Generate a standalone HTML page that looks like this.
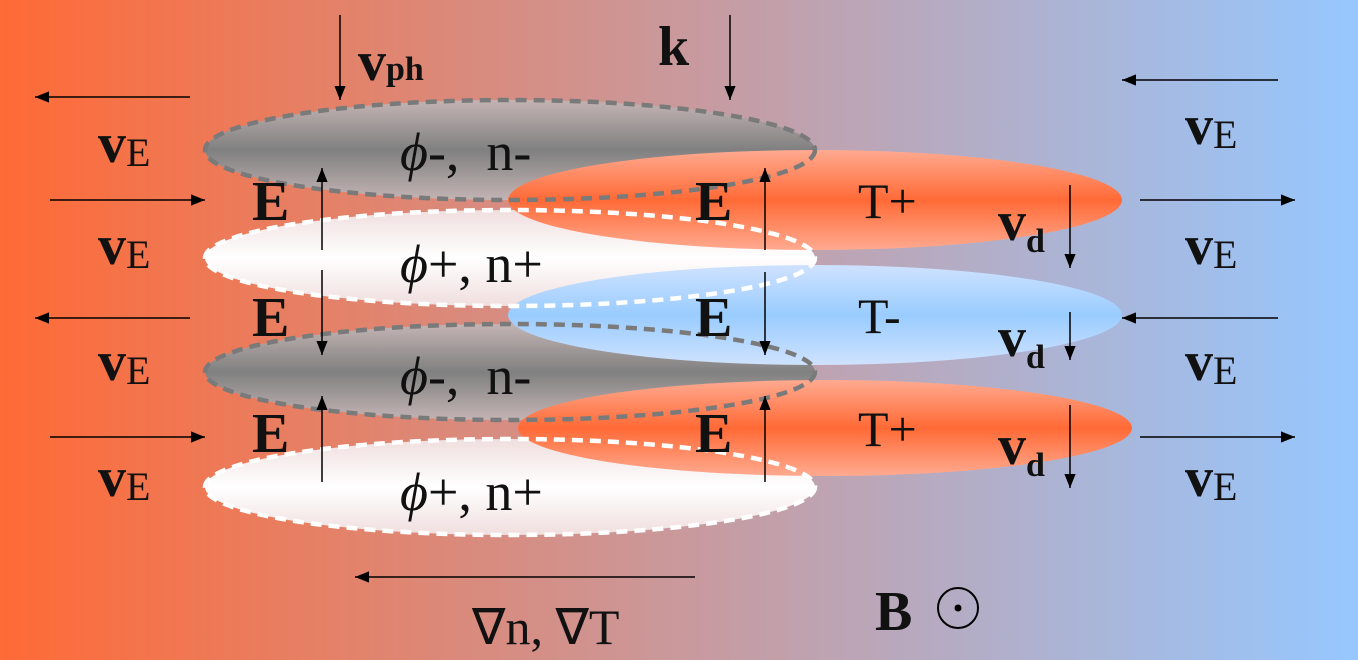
<!DOCTYPE html>
<html><head><meta charset="utf-8"><style>
html,body{margin:0;padding:0;width:1358px;height:660px;overflow:hidden}
svg{display:block}
text{font-family:"Liberation Serif",serif;fill:#111}
.b{font-weight:bold}
</style></head><body>
<svg width="1358" height="660" viewBox="0 0 1358 660" xmlns="http://www.w3.org/2000/svg">
<defs>
<linearGradient id="bg" x1="0" x2="1" y1="0" y2="0">
<stop offset="0" stop-color="#ff6a36"/><stop offset="0.5" stop-color="#c9999c"/><stop offset="1" stop-color="#96c8ff"/>
</linearGradient>
<linearGradient id="grey" x1="0" x2="0" y1="0" y2="1">
<stop offset="0" stop-color="#c4b4b4"/><stop offset="0.5" stop-color="#808080"/><stop offset="1" stop-color="#c4b4b4"/>
</linearGradient>
<linearGradient id="white" x1="0" x2="0" y1="0" y2="1">
<stop offset="0" stop-color="#f0dede"/><stop offset="0.5" stop-color="#ffffff"/><stop offset="1" stop-color="#f0dede"/>
</linearGradient>
<linearGradient id="orange" x1="0" x2="0" y1="0" y2="1">
<stop offset="0" stop-color="#ffaa90"/><stop offset="0.5" stop-color="#ff6a36"/><stop offset="1" stop-color="#ffaa90"/>
</linearGradient>
<linearGradient id="blue" x1="0" x2="0" y1="0" y2="1">
<stop offset="0" stop-color="#cfe2ff"/><stop offset="0.5" stop-color="#99ccff"/><stop offset="1" stop-color="#cfe2ff"/>
</linearGradient>
<marker id="ah" viewBox="0 0 10 10" refX="10" refY="5" markerWidth="14" markerHeight="14" markerUnits="userSpaceOnUse" orient="auto"><path d="M0,1 L10,5 L0,9 z" fill="#000"/></marker>
</defs>
<rect width="1358" height="660" fill="url(#bg)"/>

<g>
<ellipse cx="510" cy="150" rx="305" ry="50" fill="url(#grey)"/>
<ellipse cx="510" cy="258" rx="305" ry="48" fill="url(#white)"/>
<ellipse cx="510" cy="372" rx="305" ry="48" fill="url(#grey)"/>
<ellipse cx="510" cy="487" rx="305" ry="48" fill="url(#white)"/>
</g>
<g>
<ellipse cx="815" cy="200" rx="307" ry="50" fill="url(#orange)"/>
<ellipse cx="815" cy="315" rx="307" ry="50" fill="url(#blue)"/>
<ellipse cx="825" cy="428" rx="307" ry="48" fill="url(#orange)"/>
</g>
<g fill="none" stroke-width="4.5" stroke-dasharray="11,7">
<ellipse cx="510" cy="150" rx="305" ry="50" stroke="#7a7a7a"/>
<ellipse cx="510" cy="258" rx="305" ry="48" stroke="#fff"/>
<ellipse cx="510" cy="372" rx="305" ry="48" stroke="#7a7a7a"/>
<ellipse cx="510" cy="487" rx="305" ry="48" stroke="#fff"/>
</g>

<g stroke="#000" stroke-width="1.5" marker-end="url(#ah)">
<line x1="340" y1="15" x2="340" y2="100"/>
<line x1="730" y1="15" x2="730" y2="100"/>
<line x1="190" y1="97" x2="35" y2="97"/>
<line x1="50" y1="200" x2="205" y2="200"/>
<line x1="190" y1="318" x2="35" y2="318"/>
<line x1="50" y1="437" x2="205" y2="437"/>
<line x1="1278" y1="80" x2="1122" y2="80"/>
<line x1="1140" y1="200" x2="1295" y2="200"/>
<line x1="1278" y1="318" x2="1122" y2="318"/>
<line x1="1140" y1="437" x2="1295" y2="437"/>
<line x1="322" y1="250" x2="322" y2="168"/>
<line x1="322" y1="270" x2="322" y2="355"/>
<line x1="322" y1="482" x2="322" y2="396"/>
<line x1="765" y1="250" x2="765" y2="168"/>
<line x1="765" y1="272" x2="765" y2="355"/>
<line x1="765" y1="482" x2="765" y2="396"/>
<line x1="1070" y1="185" x2="1070" y2="268"/>
<line x1="1070" y1="312" x2="1070" y2="360"/>
<line x1="1070" y1="405" x2="1070" y2="488"/>
<line x1="695" y1="577" x2="355" y2="577"/>
</g>

<g font-size="56">
<text x="358" y="80" class="b">v<tspan font-size="34">ph</tspan></text>
<text x="658" y="65" class="b">k</text>
<text x="400" y="170" font-size="54"><tspan font-style="italic">ϕ</tspan>-,&#160; n-</text>
<text x="400" y="282" font-size="54"><tspan font-style="italic">ϕ</tspan>+, n+</text>
<text x="400" y="394" font-size="54"><tspan font-style="italic">ϕ</tspan>-,&#160; n-</text>
<text x="400" y="510" font-size="54"><tspan font-style="italic">ϕ</tspan>+, n+</text>
<text x="252" y="220" class="b">E</text>
<text x="252" y="336" class="b">E</text>
<text x="252" y="452" class="b">E</text>
<text x="695" y="220" class="b">E</text>
<text x="695" y="336" class="b">E</text>
<text x="695" y="452" class="b">E</text>
<text x="858" y="218" font-size="50">T+</text>
<text x="858" y="333" font-size="50">T-</text>
<text x="858" y="446" font-size="50">T+</text>
<text x="998" y="240" class="b">v<tspan font-size="34" dy="12">d</tspan></text>
<text x="998" y="356" class="b">v<tspan font-size="34" dy="12">d</tspan></text>
<text x="998" y="464" class="b">v<tspan font-size="34" dy="12">d</tspan></text>
<text x="98" y="162" class="b">v<tspan font-size="40" font-weight="normal" dy="4">E</tspan></text>
<text x="98" y="264" class="b">v<tspan font-size="40" font-weight="normal" dy="4">E</tspan></text>
<text x="98" y="380" class="b">v<tspan font-size="40" font-weight="normal" dy="4">E</tspan></text>
<text x="98" y="496" class="b">v<tspan font-size="40" font-weight="normal" dy="4">E</tspan></text>
<text x="1185" y="144" class="b">v<tspan font-size="40" font-weight="normal" dy="4">E</tspan></text>
<text x="1185" y="264" class="b">v<tspan font-size="40" font-weight="normal" dy="4">E</tspan></text>
<text x="1185" y="380" class="b">v<tspan font-size="40" font-weight="normal" dy="4">E</tspan></text>
<text x="1185" y="496" class="b">v<tspan font-size="40" font-weight="normal" dy="4">E</tspan></text>
<text x="472" y="644" font-size="50">∇n, ∇T</text>
<text x="875" y="630" class="b">B</text>
</g>
<g>
<circle cx="958" cy="608" r="20" fill="none" stroke="#000" stroke-width="2"/>
<circle cx="958" cy="608" r="3.5" fill="#000"/>
</g>
</svg>
</body></html>
